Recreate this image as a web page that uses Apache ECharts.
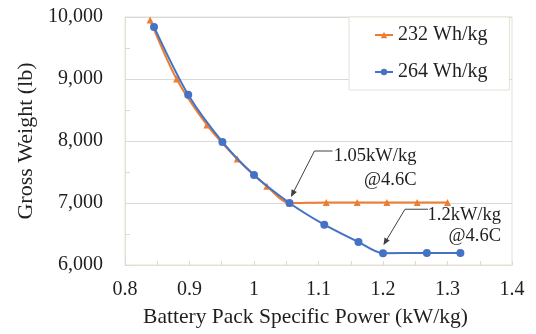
<!DOCTYPE html>
<html>
<head>
<meta charset="utf-8">
<script src="https://cdn.jsdelivr.net/npm/echarts@6/dist/echarts.min.js"></script>
<style>
  html, body { margin: 0; padding: 0; background: #fff; }
  #chart { width: 536px; height: 334px; }
</style>
</head>
<body>
<div id="chart"></div>
<script>
// data
const seriesNames = ['232 Wh/kg', '264 Wh/kg'];
const power232 = [0.839, 0.880, 0.927, 0.974, 1.020, 1.055, 1.112, 1.160, 1.206, 1.253, 1.300];
const weight232 = [9950, 9000, 8260, 7710, 7270, 7000, 7010, 7010, 7010, 7010, 7010];
const power264 = [0.845, 0.898, 0.951, 1.000, 1.055, 1.109, 1.162, 1.200, 1.268, 1.320];
const weight264 = [9840, 8745, 7985, 7450, 7000, 6650, 6370, 6190, 6195, 6195];
const xTicks = [0.8, 0.9, 1, 1.1, 1.2, 1.3, 1.4];
const yTicks = [6000, 7000, 8000, 9000, 10000];
const calloutAt = [[1.055, 7000], [1.2, 6190]];
const calloutText = [['1.05kW/kg', '@4.6C'], ['1.2kW/kg', '@4.6C']];

const serif = '"Liberation Serif", "Times New Roman", serif';
const textColor = '#1f1f1f';
const frameColor = '#e3e0d4';

function pairs(xs, ys) {
    return xs.map((x, i) => [x, ys[i]]);
}

const chart = echarts.init(document.getElementById('chart'), null, { renderer: 'canvas' });

const option = {
    animation: false,
    backgroundColor: '#fff',
    grid: {
        left: 125, right: 24, top: 17, bottom: 69,
        show: true, borderColor: frameColor, borderWidth: 1
    },
    legend: {
        data: seriesNames,
        orient: 'vertical',
        left: 349, top: 17,
        padding: [8, 22, 8, 25],
        itemGap: 17,
        itemWidth: 18, itemHeight: 8,
        backgroundColor: '#fff',
        borderColor: frameColor, borderWidth: 1,
        textStyle: { fontFamily: serif, fontSize: 20, color: textColor },
        selectedMode: false
    },
    xAxis: {
        type: 'value',
        min: xTicks[0], max: xTicks[xTicks.length - 1], interval: 0.1,
        name: 'Battery Pack Specific Power (kW/kg)',
        nameLocation: 'middle', nameGap: 41,
        nameTextStyle: { fontFamily: serif, fontSize: 21.5, color: textColor, padding: [0, 26, 0, 0] },
        axisLine: { lineStyle: { color: frameColor } },
        axisTick: { inside: true, length: 4, lineStyle: { color: '#d9d9d9' } },
        minorTick: { show: true, splitNumber: 2, length: 4, lineStyle: { color: '#d9d9d9' } },
        splitLine: { show: false },
        axisLabel: {
            margin: 15, fontFamily: serif, fontSize: 20, color: textColor,
            formatter: v => String(Math.round(v * 10) / 10)
        }
    },
    yAxis: {
        type: 'value',
        min: yTicks[0], max: yTicks[yTicks.length - 1], interval: 1000,
        name: 'Gross Weight (lb)',
        nameLocation: 'middle', nameGap: 87,
        nameTextStyle: { fontFamily: serif, fontSize: 22, color: textColor },
        axisLine: { show: true, lineStyle: { color: frameColor } },
        axisTick: { show: true, inside: true, length: 5, lineStyle: { color: '#d9d9d9' } },
        minorTick: { show: true, splitNumber: 2, length: 5, lineStyle: { color: '#d9d9d9' } },
        splitLine: { lineStyle: { color: '#d9d9d9' } },
        axisLabel: {
            margin: 22, fontFamily: serif, fontSize: 20, color: textColor,
            formatter: v => v.toLocaleString('en-US')
        }
    },
    series: [
        {
            name: seriesNames[0],
            type: 'line',
            data: pairs(power232, weight232),
            smooth: 0.3,
            symbol: 'triangle', symbolSize: 7,
            itemStyle: { color: '#ED7D31' },
            lineStyle: { color: '#ED7D31', width: 2 },
            emphasis: { disabled: true },
            z: 2
        },
        {
            name: seriesNames[1],
            type: 'line',
            data: pairs(power264, weight264),
            smooth: 0.3,
            symbol: 'circle', symbolSize: 8,
            itemStyle: { color: '#4472C4' },
            lineStyle: { color: '#4472C4', width: 2 },
            emphasis: { disabled: true },
            z: 3
        }
    ]
};

chart.setOption(option);

// callouts: leader line with arrow, plus two text lines, placed relative to the data point
const calloutLayout = [
    { tip: [2, -7], elbow: [25, -52], end: [43, -52], textRight: 127, lines: [-47, -23] },
    { tip: [1, -9], elbow: [22, -44], end: [45, -44], textRight: 118, lines: [-38, -17] }
];

const graphics = [];
calloutAt.forEach((at, i) => {
    const p = chart.convertToPixel({ gridIndex: 0 }, at);
    const L = calloutLayout[i];
    const tip = [p[0] + L.tip[0], p[1] + L.tip[1]];
    const elbow = [p[0] + L.elbow[0], p[1] + L.elbow[1]];
    const end = [p[0] + L.end[0], p[1] + L.end[1]];
    graphics.push({
        type: 'polyline', z: 10, silent: true,
        shape: { points: [end, elbow, tip] },
        style: { stroke: '#404040', lineWidth: 1, fill: null }
    });
    // arrow head
    const dx = tip[0] - elbow[0], dy = tip[1] - elbow[1];
    const len = Math.sqrt(dx * dx + dy * dy);
    const ux = dx / len, uy = dy / len;
    const back = [tip[0] - ux * 6, tip[1] - uy * 6];
    graphics.push({
        type: 'polygon', z: 10, silent: true,
        shape: { points: [
            [tip[0] + ux * 1, tip[1] + uy * 1],
            [back[0] - uy * 3, back[1] + ux * 3],
            [back[0] + uy * 3, back[1] - ux * 3]
        ] },
        style: { fill: '#404040' }
    });
    calloutText[i].forEach((t, j) => {
        graphics.push({
            type: 'text', z: 10, silent: true,
            style: {
                text: t, x: p[0] + L.textRight, y: p[1] + L.lines[j],
                align: 'right', verticalAlign: 'middle',
                font: '18.5px ' + serif, fill: textColor
            }
        });
    });
});

chart.setOption({ graphic: graphics });
</script>
</body>
</html>
